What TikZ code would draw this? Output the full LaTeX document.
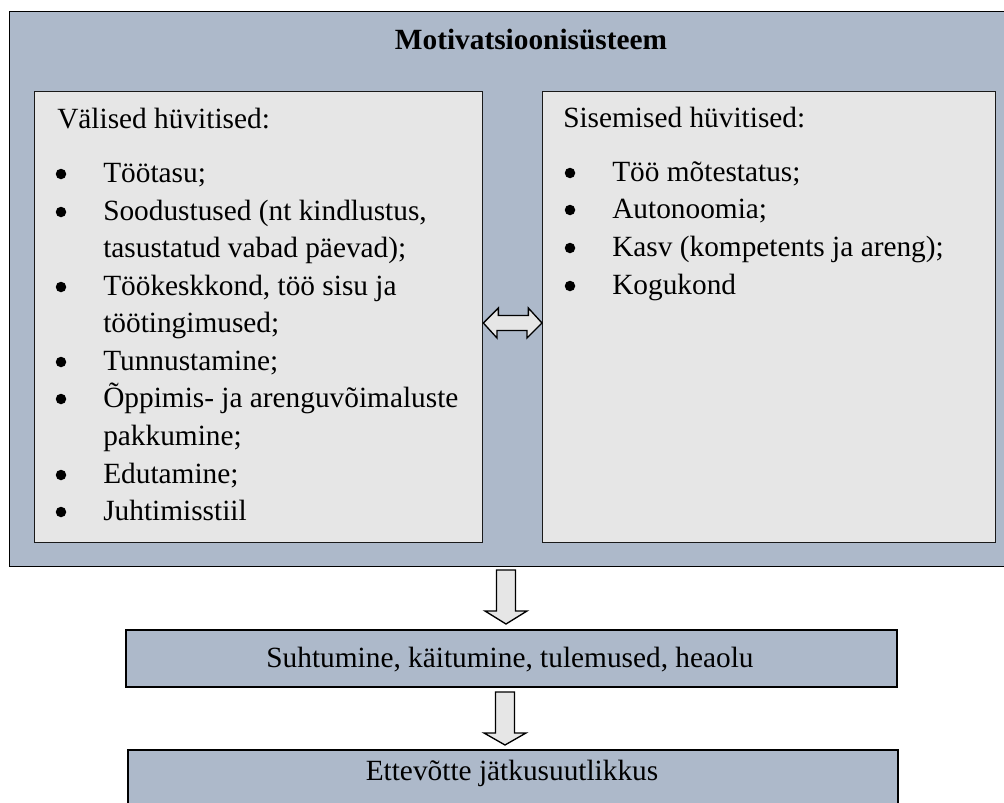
\documentclass[tikz,border=0pt]{standalone}
\usepackage{fontspec}
\setmainfont{Liberation Serif}
\definecolor{bluegrey}{HTML}{ADB9CA}
\definecolor{lightgrey}{HTML}{E6E6E6}
\begin{document}
\begin{tikzpicture}[x=0.75pt,y=-0.75pt,
  frame/.style={draw=black, line width=0.8pt, fill=bluegrey, anchor=north west, inner sep=0pt},
  inbox/.style={draw=black!90, line width=1pt, fill=lightgrey, anchor=north west, inner sep=0pt},
  resbox/.style={draw=black, line width=1.8pt, fill=bluegrey, anchor=north west, inner sep=0pt},
  txt/.style={anchor=base west, inner sep=0pt, font=\fontsize{22}{26}\selectfont},
  ctxt/.style={anchor=base, inner sep=0pt, font=\fontsize{22}{26}\selectfont},
  bul/.style={circle, fill=black, inner sep=0pt, minimum size=10.5*0.75pt},
  blockarrow/.style={draw=black, line width=1pt, fill=lightgrey, line join=miter}]
\useasboundingbox (0,0) rectangle (1004,803);
\fill[white] (0,0) rectangle (1004,803);

% boxes
\node[frame, minimum width=997*0.75pt, minimum height=555*0.75pt] (outer) at (9,11) {};
\node[inbox, minimum width=448*0.75pt, minimum height=451*0.75pt] (left) at (34,91) {};
\node[inbox, minimum width=453*0.75pt, minimum height=451*0.75pt] (right) at (542,91) {};
\node[resbox, minimum width=771*0.75pt, minimum height=57*0.75pt] (res) at (125,629) {};
\node[resbox, minimum width=770*0.75pt, minimum height=57*0.75pt] (sus) at (127,749) {};

% title
\node[ctxt, font=\fontsize{22}{26}\selectfont\bfseries] (title) at (531,49) {Motivatsioonisüsteem};

% left list
\node[txt] (lh) at (57,128) {Välised hüvitised:};
\foreach \y/\t/\b [count=\i] in {
  182/{Töötasu;}/1,
  220/{Soodustused (nt kindlustus,}/1,
  257/{tasustatud vabad päevad);}/0,
  295/{Töökeskkond, töö sisu ja}/1,
  332/{töötingimused;}/0,
  370/{Tunnustamine;}/1,
  407/{Õppimis- ja arenguvõimaluste}/1,
  445/{pakkumine;}/0,
  483/{Edutamine;}/1,
  520/{Juhtimisstiil}/1} {
  \node[txt] (l\i) at (103,\y) {\t};
  \ifnum\b=1 \node[bul] (lb\i) at (61,\y-8) {};\fi
}

% right list
\node[txt] (rh) at (563,127) {Sisemised hüvitised:};
\foreach \y/\t [count=\i] in {
  181/{Töö mõtestatus;},
  218/{Autonoomia;},
  256/{Kasv (kompetents ja areng);},
  294/{Kogukond}} {
  \node[txt] (r\i) at (612,\y) {\t};
  \node[bul] (rb\i) at (570,\y-8) {};
}

% result texts
\node[ctxt] (restext) at (510,667) {Suhtumine, käitumine, tulemused, heaolu};
\node[ctxt] (sustext) at (512,780) {Ettevõtte jätkusuutlikkus};

% double arrow between boxes
\coordinate (dl) at (left.east |- 0,323);
\coordinate (dr) at (right.west |- 0,323);
\draw[blockarrow] (dl) -- ++(15,-15) -- ++(0,7.5) -- ++(30,0) -- ++(0,-7.5) -- (dr)
  -- ++(-15,15) -- ++(0,-7.5) -- ++(-30,0) -- ++(0,7.5) -- cycle;

% down arrows
\coordinate (a1) at (506,570);
\draw[blockarrow] (a1) ++(-9.5,0) -- ++(0,41) -- ++(-11.5,0) -- ++(21,13) -- ++(21,-13)
  -- ++(-11.5,0) -- ++(0,-41) -- cycle;
\coordinate (a2) at (505,692);
\draw[blockarrow] (a2) ++(-9.5,0) -- ++(0,41) -- ++(-11.5,0) -- ++(21,12) -- ++(21,-12)
  -- ++(-11.5,0) -- ++(0,-41) -- cycle;
\end{tikzpicture}
\end{document}
